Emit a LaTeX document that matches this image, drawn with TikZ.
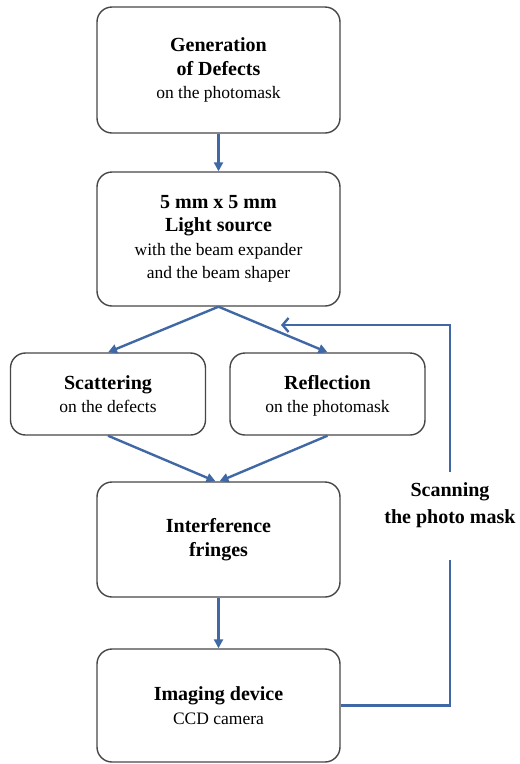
\documentclass[tikz,border=0pt]{standalone}
\usepackage{fontspec}
\setmainfont{Liberation Serif}
\usetikzlibrary{arrows.meta, positioning}
\definecolor{flow}{RGB}{64,104,164}
\definecolor{edge}{RGB}{70,70,70}
\newcommand{\sub}[1]{{\fontsize{17.5}{23.5}\selectfont\mdseries #1}}

\begin{document}
\begin{tikzpicture}[x=1pt, y=-1pt,
  blk/.style={draw=edge, line width=1.4pt, rounded corners=15pt, align=center, inner sep=2pt,
    font=\fontsize{20}{23.5}\selectfont\bfseries},
  big/.style={blk, minimum width=243pt},
  half/.style={blk, minimum width=195pt, minimum height=82pt},
  arr/.style={draw=flow, line width=2.4pt, -{Triangle[length=9pt, width=9pt]}},
  back/.style={draw=flow, line width=2.4pt, -{Straight Barb[length=6pt, width=14pt]}}]
\useasboundingbox (0,0) rectangle (520,764);
\node[big, minimum height=126pt] (gen) at (218.5,70) {Generation\\ of Defects\\ \sub{on the photomask}};
\node[big, minimum height=134pt] (light) at (218.5,239) {5 mm x 5 mm\\ Light source\\ \sub{with the beam expander}\\ \sub{and the beam shaper}};
\node[half] (scat) at (108,394) {Scattering\\ \sub{on the defects}};
\node[half] (refl) at (327.5,394) {Reflection\\ \raisebox{0pt}[\height][0pt]{\sub{on the photomask}}};
\node[big, minimum height=115pt] (intf) at (218.5,539.5) {Interference\\ fringes};
\node[big, minimum height=113pt] (img) at (218.5,705.5) {Imaging device\\ \sub{CCD camera}};
\node[align=center, inner sep=0pt, font=\fontsize{20}{27}\selectfont\bfseries] (scan) at (450,505) {Scanning\\ the photo mask};
\coordinate (fb) at (281,325);
\draw[arr] (gen) -- (light);
\draw[arr] (light.south) -- (scat.north);
\draw[arr] (light.south) -- (refl.north);
\draw[arr] (scat.south) -- ([xshift=-3pt]intf.north);
\draw[arr] (refl.south) -- ([xshift=1pt]intf.north);
\draw[arr] (intf) -- (img);
\draw[draw=flow, line width=2.4pt] (img.east) -| ([yshift=-32pt]scan.south);
\draw[back] ([yshift=10pt]scan.north) |- (fb);
\end{tikzpicture}
\end{document}
